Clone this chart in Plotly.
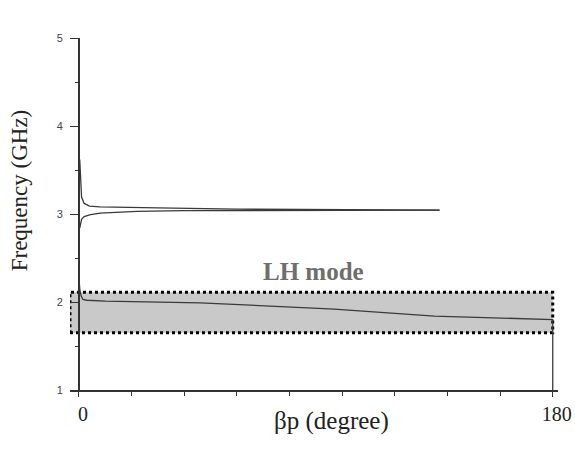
import plotly.graph_objects as go

# ---- data ----
# upper band (around 3 GHz), two branches meeting near 137 deg
upper_hi_x = [0.3, 0.6, 1.0, 2.0, 4.0, 8.0, 15, 30, 60, 100, 137]
upper_hi_y = [3.62, 3.35, 3.19, 3.12, 3.09, 3.08, 3.075, 3.07, 3.055, 3.048, 3.045]
upper_lo_x = [0.3, 0.6, 1.0, 2.0, 4.0, 8.0, 15, 22, 40, 80, 137]
upper_lo_y = [2.84, 2.91, 2.94, 2.97, 2.99, 3.01, 3.02, 3.03, 3.038, 3.043, 3.045]

# LH mode curve, with the drop at 180 deg
lh_x = [0.0, 0.3, 0.8, 1.5, 3, 10, 46, 97, 135, 180, 180]
lh_y = [2.28, 2.15, 2.07, 2.03, 2.02, 2.01, 1.99, 1.92, 1.84, 1.80, 1.00]

# LH mode highlight box
band_x = [-3.4, 180, 180, -3.4, -3.4]
band_y = [1.65, 1.65, 2.11, 2.11, 1.65]

x_tick_vals = [0, 180]
x_tick_text = ["0", "180"]
y_tick_vals = [1, 2, 3, 4, 5]
x_minor_vals = [20, 40, 60, 80, 100, 120, 140, 160]

X_RANGE = [-3.4, 182]
serif = "Liberation Serif"
curve_col = "#3a3a3a"

fig = go.Figure()
fig.add_trace(go.Scatter(x=band_x, y=band_y, mode="lines", fill="toself",
                         fillcolor="#c9c9c9",
                         line=dict(color="black", width=3, dash="dot"),
                         hoverinfo="skip", showlegend=False))
fig.add_trace(go.Scatter(x=lh_x, y=lh_y, mode="lines",
                         line=dict(color=curve_col, width=1.3), showlegend=False))
fig.add_trace(go.Scatter(x=upper_hi_x, y=upper_hi_y, mode="lines",
                         line=dict(color=curve_col, width=1.3), showlegend=False))
fig.add_trace(go.Scatter(x=upper_lo_x, y=upper_lo_y, mode="lines",
                         line=dict(color=curve_col, width=1.3), showlegend=False))

fig.add_annotation(x=89, y=2.35, text="<b>LH mode</b>", showarrow=False,
                   font=dict(family=serif, size=25, color="#6e6e6e"))

# axis titles as annotations (offset like the original)
fig.add_annotation(xref="paper", yref="paper", x=-0.104, y=0.568,
                   text="Frequency (GHz)", textangle=-90, showarrow=False,
                   xanchor="center", yanchor="middle",
                   font=dict(family=serif, size=23, color="#222"))
fig.add_annotation(xref="paper", yref="paper", x=0.535, y=-0.088,
                   text="βp (degree)", showarrow=False,
                   xanchor="center", yanchor="middle",
                   font=dict(family=serif, size=25, color="#222"))

y_pos = (0 - X_RANGE[0]) / (X_RANGE[1] - X_RANGE[0])

fig.update_layout(
    width=575, height=468,
    margin=dict(l=70, r=17, t=38, b=78, autoexpand=False),
    paper_bgcolor="white", plot_bgcolor="white",
    xaxis=dict(range=X_RANGE, showgrid=False, zeroline=False, automargin=False,
               showline=True, linecolor="#333", linewidth=1.5,
               tickvals=x_tick_vals, ticktext=x_tick_text,
               ticks="outside", ticklen=5, tickcolor="#333", tickwidth=1.2,
               ticklabelshift=4,
               tickfont=dict(family=serif, size=20, color="#222"),
               minor=dict(tickvals=x_minor_vals,
                          ticks="outside", ticklen=4,
                          tickcolor="#333", tickwidth=1.2, showgrid=False)),
    yaxis=dict(range=[1, 5], showgrid=False, zeroline=False, automargin=False,
               anchor="free", position=y_pos,
               showline=True, linecolor="#333", linewidth=1.5,
               tickvals=y_tick_vals, ticklabelstandoff=5,
               ticks="outside", ticklen=8, tickcolor="#333", tickwidth=1.2,
               tickfont=dict(family="Liberation Sans", size=11, color="#444"),
               minor=dict(dtick=0.5, tick0=1, ticks="outside", ticklen=3,
                          tickcolor="#333", tickwidth=1.2, showgrid=False)),
)

fig.write_html("out.html")
